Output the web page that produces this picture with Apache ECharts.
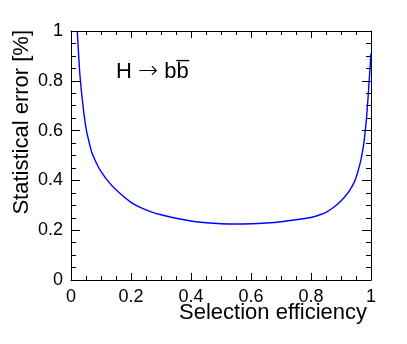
<!DOCTYPE html>
<html>
<head>
<meta charset="utf-8">
<script src="https://cdn.jsdelivr.net/npm/echarts@6/dist/echarts.min.js"></script>
<style>
  html, body { margin: 0; padding: 0; background: #fff; }
  #main { width: 407px; height: 344px; }
</style>
</head>
<body>
<div id="main"></div>
<script>
// selection efficiency (x) and statistical error in % (y)
var efficiency = [0.021, 0.03, 0.04, 0.05, 0.06, 0.07, 0.08, 0.09, 0.10, 0.12, 0.15, 0.20, 0.25, 0.30, 0.35, 0.40, 0.45, 0.50, 0.55, 0.60, 0.65, 0.70, 0.75, 0.80, 0.83, 0.85, 0.87, 0.89, 0.91, 0.93, 0.945, 0.955, 0.965, 0.975, 0.98, 0.985, 0.99, 0.995, 1.0];
var statError = [1.00, 0.82, 0.70, 0.61, 0.555, 0.51, 0.482, 0.457, 0.436, 0.402, 0.362, 0.312, 0.282, 0.262, 0.248, 0.237, 0.230, 0.226, 0.225, 0.226, 0.229, 0.234, 0.242, 0.251, 0.262, 0.272, 0.287, 0.306, 0.330, 0.362, 0.395, 0.43, 0.475, 0.54, 0.59, 0.65, 0.73, 0.82, 0.91];
var xTicks = [0, 0.2, 0.4, 0.6, 0.8, 1];
var yTicks = [0, 0.2, 0.4, 0.6, 0.8, 1];

var font = 'Liberation Sans';

var myChart = echarts.init(document.getElementById('main'));

var points = [];
for (var i = 0; i < efficiency.length; i++) {
    points.push([efficiency[i], statError[i]]);
}

function fmt(v) {
    return String(Math.round(v * 10) / 10);
}

// ROOT-like axis: ticks inside, minor ticks, black frame
function axis(pos, ticks, showLabel, tickLen, minorLen) {
    return {
        type: 'value',
        position: pos,
        min: ticks[0],
        max: ticks[ticks.length - 1],
        interval: 0.2,
        axisLine: { show: true, onZero: false, lineStyle: { color: '#000', width: 1 } },
        axisTick: { show: true, inside: true, length: tickLen, lineStyle: { color: '#000', width: 1 } },
        minorTick: { show: true, splitNumber: 4, length: minorLen, lineStyle: { color: '#000', width: 1 } },
        splitLine: { show: false },
        axisLabel: {
            show: showLabel,
            color: '#000',
            fontFamily: font,
            fontSize: 18,
            formatter: fmt
        }
    };
}

var option = {
    animation: false,
    backgroundColor: '#fff',
    grid: { left: 71, top: 31, right: 36, bottom: 64 },
    xAxis: [
        axis('bottom', xTicks, true, 7, 4),
        axis('top', xTicks, false, 7, 4)
    ],
    yAxis: [
        axis('left', yTicks, true, 9, 5),
        axis('right', yTicks, false, 9, 5)
    ],
    series: [{
        type: 'line',
        data: points,
        smooth: 0.3,
        showSymbol: false,
        clip: true,
        lineStyle: { color: '#0000ff', width: 1.4 }
    }],
    graphic: [
        {
            type: 'text',
            x: 367, y: 302,
            style: {
                text: 'Selection efficiency',
                font: '22px "Liberation Sans"',
                fill: '#000',
                align: 'right', textAlign: 'right',
                verticalAlign: 'top', textVerticalAlign: 'top'
            }
        },
        {
            type: 'text',
            x: 22, y: 30,
            rotation: Math.PI / 2,
            style: {
                text: 'Statistical error [%]',
                font: '22px "Liberation Sans"',
                fill: '#000',
                align: 'right', textAlign: 'right',
                verticalAlign: 'middle', textVerticalAlign: 'middle'
            }
        },
        {
            type: 'text',
            x: 116, y: 60,
            style: {
                text: 'H {a|\u2192} bb\u0305',
                font: '22px "Liberation Sans"',
                fill: '#000',
                align: 'left', textAlign: 'left',
                verticalAlign: 'top', textVerticalAlign: 'top',
                rich: {
                    a: { fontFamily: 'DejaVu Sans', fontSize: 24, fontWeight: 'lighter', fill: '#000', color: '#000' }
                }
            }
        }
    ]
};

myChart.setOption(option);
window.addEventListener('resize', function () {
    myChart.resize();
});
</script>
</body>
</html>
